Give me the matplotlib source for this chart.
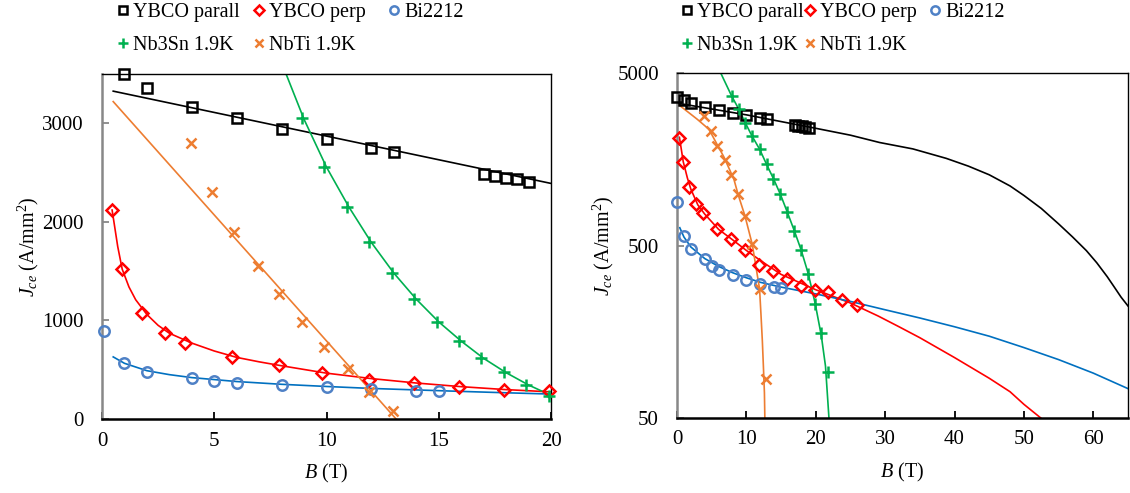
import numpy as np
import matplotlib
matplotlib.use('Agg')
import matplotlib.pyplot as plt
from matplotlib.ticker import NullLocator, FixedLocator, FixedFormatter

plt.rcParams['font.family'] = 'Liberation Serif'
plt.rcParams['mathtext.fontset'] = 'custom'
plt.rcParams['mathtext.rm'] = 'Liberation Serif'
plt.rcParams['mathtext.it'] = 'Liberation Serif:italic'
plt.rcParams['font.size'] = 14.5

W, H = 1130, 493

# ---- measured points (B in T, Jce in A/mm2) ----
# left panel, linear axes
par_B = [1, 2, 4, 6, 8, 10, 12, 13, 17, 17.5, 18, 18.5, 19]
par_J = [3500, 3360, 3170, 3050, 2940, 2840, 2750, 2710, 2490, 2470, 2450, 2430, 2400]
perp_B = [0.45, 0.9, 1.8, 2.8, 3.7, 5.8, 7.9, 9.8, 11.9, 13.9, 15.9, 17.9, 19.9]
perp_J = [2120, 1520, 1080, 870, 770, 630, 550, 466, 395, 365, 326, 294, 283]
bi_B = [0.1, 1, 2, 4, 5, 6, 8, 10, 12, 14, 15]
bi_J = [890, 565, 476, 415, 385, 365, 345, 326, 300, 285, 285]
nb3sn_B = [8.9, 9.9, 10.9, 11.9, 12.9, 13.9, 14.9, 15.9, 16.9, 17.9, 18.9, 19.9]
nb3sn_J = [3050, 2555, 2155, 1795, 1480, 1218, 985, 790, 618, 476, 344, 233]
nbti_B = [3.95, 4.9, 5.9, 6.95, 7.9, 8.9, 9.9, 10.95, 11.9, 12.95]
nbti_J = [2795, 2300, 1895, 1550, 1266, 983, 735, 512, 276, 81]

# right panel, log axis (a few more points)
par2_B = [0, 1, 2, 4, 6, 8, 10, 12, 13, 17, 17.5, 18, 18.5, 19]
par2_J = [3620, 3500, 3360, 3170, 3050, 2940, 2840, 2750, 2710, 2490, 2470, 2450, 2430, 2400]
perp2_B = [0.35, 0.9, 1.8, 2.8, 3.7, 5.7, 7.8, 9.8, 11.8, 13.8, 15.8, 17.8, 19.9, 21.8, 23.8, 25.9]
perp2_J = [2110, 1530, 1090, 866, 774, 620, 547, 470, 383, 355, 321, 292, 277, 268, 243, 227]
bi2_B = [0, 1, 2, 4, 5, 6, 8, 10, 12, 14, 15]
bi2_J = [893, 566, 479, 415, 380, 362, 339, 317, 300, 286, 284]
nb3sn2_B = [7.9, 8.9, 9.8, 10.8, 11.9, 12.9, 13.9, 14.9, 15.9, 16.9, 17.9, 18.9, 19.9, 20.8, 21.8]
nb3sn2_J = [3660, 3090, 2580, 2160, 1810, 1480, 1220, 990, 780, 610, 474, 344, 230, 155, 93]
nbti2_B = [3.85, 4.85, 5.75, 6.85, 7.8, 8.8, 9.8, 10.85, 11.9, 12.85]
nbti2_J = [2800, 2310, 1890, 1565, 1275, 990, 740, 507, 280, 84]

# ---- fitted curves ----
fpar_B = [0.5, 20]
fpar_J = [3326, 2390]
fperp_B = [0.45, 0.7, 0.9, 1.2, 1.5, 2, 2.5, 3, 4, 5, 6, 7, 8, 10, 12, 14, 16, 18, 20]
fperp_J = [2120, 1750, 1520, 1340, 1210, 1060, 950, 870, 770, 690, 625, 580, 540, 465, 410, 365, 328, 298, 275]
fbi_B = [0.5, 1, 2, 3, 4, 6, 8, 10, 12, 14, 16, 18, 20]
fbi_J = [630, 565, 490, 450, 420, 380, 352, 330, 310, 295, 280, 266, 253]
fnb3sn_B = [8.2, 9, 10, 11, 12, 13, 14, 15, 16, 17, 18, 19, 20]
fnb3sn_J = [3500, 3040, 2555, 2150, 1790, 1480, 1215, 985, 790, 615, 470, 345, 240]
fnbti_B = [0.5, 13.1]
fnbti_J = [3220, 0]

fpar2_B = [0.3, 10, 20, 25, 29.2, 34, 38.8, 42, 45, 48, 50, 52.5, 55, 57, 59, 60.5, 62, 63, 64, 65]
fpar2_J = [3330, 2860, 2390, 2180, 1977, 1815, 1600, 1442, 1285, 1107, 975, 820, 667, 561, 467, 397, 330, 288, 251, 223]
fperp2_B = [0.35, 0.9, 1.5, 2, 3, 4, 6, 8, 10, 12, 15, 20, 25, 29, 32, 35, 40, 45, 48, 50, 52.7]
fperp2_J = [2120, 1530, 1230, 1060, 860, 760, 620, 540, 468, 410, 340, 277, 232, 195, 169, 146, 112, 85, 71, 60, 49]
fbi2_B = [0.4, 1, 2, 4, 6, 8, 10, 12, 15, 20, 25, 30, 35, 40, 45, 50, 55, 60, 65]
fbi2_J = [634, 560, 490, 420, 378, 348, 325, 306, 287, 262, 237, 212, 190, 169, 149, 128, 109, 91, 74]
fnb3sn2_B = [6.3, 7.9, 8.9, 9.8, 10.8, 11.9, 12.9, 13.9, 14.9, 15.9, 16.9, 17.9, 18.9, 19.9, 20.8, 21.4, 21.9]
fnb3sn2_J = [5000, 3660, 3090, 2590, 2160, 1810, 1480, 1220, 990, 780, 610, 470, 345, 232, 150, 100, 50]
fnbti2_B = [0.3, 2.9, 4.6, 6.8, 8.2, 8.8, 9.8, 10.85, 11.9, 12.1, 12.3, 12.45, 12.6, 12.66]
fnbti2_J = [3260, 2700, 2360, 1618, 1210, 990, 741, 507, 280, 200, 140, 100, 70, 50]

labels = ['YBCO parall', 'YBCO perp', 'Bi2212', 'Nb3Sn 1.9K', 'NbTi 1.9K']
line_cols = ['black', '#ff0000', '#0070c0', '#00b050', '#ed7d31']
mark_cols = ['black', '#ff0000', '#4f81c6', '#00b050', '#ed7d31']
markers = ['s', 'D', 'o', '+', 'x']
msizes = [7, 5.8, 7.5, 8.5, 7.5]

fig = plt.figure(figsize=(W / 100, H / 100), dpi=100)
ax1 = fig.add_axes([102 / W, 1 - 419 / H, 449 / W, 345 / H])
ax2 = fig.add_axes([677 / W, 1 - 418 / H, 451 / W, 345 / H])


def draw(ax, pts, fits):
    hs = []
    for i, ((bx, jy), (fx, fy)) in enumerate(zip(pts, fits)):
        ax.plot(fx, fy, color=line_cols[i], lw=1.2, zorder=2)
        h, = ax.plot(bx, jy, ls='none', marker=markers[i], ms=msizes[i],
                     mfc='none', mec=mark_cols[i], mew=1.8, clip_on=False,
                     zorder=3, label=labels[i])
        hs.append(h)
    return hs


def style(ax):
    for s in ['top', 'right']:
        ax.spines[s].set_linewidth(1.0)
    ax.spines['bottom'].set_linewidth(1.8)
    ax.spines['left'].set_linewidth(1.8)
    ax.spines['left'].set_color('#888888')
    ax.tick_params(axis='x', direction='in', length=5, width=1.3, pad=9,
                   top=False, labelsize=15)
    ax.tick_params(axis='y', direction='in', length=5, width=1.3, pad=13,
                   color='#888888', right=False, labelsize=15)
    ax.set_xlabel('$B$ (T)', labelpad=8)
    ax.set_ylabel('$J_{ce}$ (A/mm$^2$)', labelpad=1)


hs1 = draw(ax1,
           [(par_B, par_J), (perp_B, perp_J), (bi_B, bi_J), (nb3sn_B, nb3sn_J), (nbti_B, nbti_J)],
           [(fpar_B, fpar_J), (fperp_B, fperp_J), (fbi_B, fbi_J), (fnb3sn_B, fnb3sn_J), (fnbti_B, fnbti_J)])
ax1.set_xlim(0, 20)
ax1.set_ylim(0, 3500)
ax1.set_xticks([0, 5, 10, 15, 20])
ax1.set_yticks([0, 1000, 2000, 3000])
style(ax1)

hs2 = draw(ax2,
           [(par2_B, par2_J), (perp2_B, perp2_J), (bi2_B, bi2_J), (nb3sn2_B, nb3sn2_J), (nbti2_B, nbti2_J)],
           [(fpar2_B, fpar2_J), (fperp2_B, fperp2_J), (fbi2_B, fbi2_J), (fnb3sn2_B, fnb3sn2_J), (fnbti2_B, fnbti2_J)])
ax2.set_yscale('log')
ax2.set_xlim(0, 65)
ax2.set_ylim(50, 5000)
ax2.set_xticks([0, 10, 20, 30, 40, 50, 60])
ax2.yaxis.set_major_locator(FixedLocator([50, 500, 5000]))
ax2.yaxis.set_major_formatter(FixedFormatter(['50', '500', '5000']))
ax2.yaxis.set_minor_locator(NullLocator())
style(ax2)


# legend drawn as three columns with equal spacing, like the original
def legend_cols(hs, xs, top):
    cols = [[hs[0], hs[3]], [hs[1], hs[4]], [hs[2]]]
    for col, x in zip(cols, xs):
        fig.legend(handles=col, loc='upper left',
                   bbox_to_anchor=((x - 6) / W, 1 - top / H),
                   frameon=False, borderpad=0, borderaxespad=0,
                   handlelength=0.6, handletextpad=0.2, labelspacing=0.7,
                   markerscale=0.8)


legend_cols(hs1, [123, 259, 394], 3)
legend_cols(hs2, [687, 810, 935], 3)

fig.savefig('out.png', dpi=100)
